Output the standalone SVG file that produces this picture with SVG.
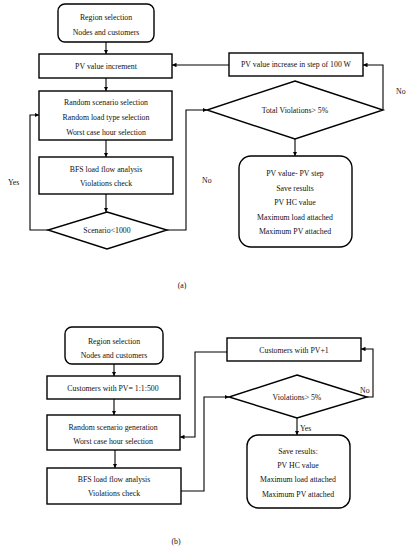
<svg xmlns="http://www.w3.org/2000/svg" width="411" height="550" viewBox="0 0 411 550">
<style>
.b{fill:#fff;stroke:#000;stroke-width:1.4}
.c{fill:none;stroke:#000;stroke-width:1.1}
text{font-family:"Liberation Serif","Times New Roman",serif;font-size:7.8px;fill:#111;text-anchor:middle}
.l{text-anchor:start}
</style>
<defs>
<marker id="a" viewBox="0 0 10 10" refX="10" refY="5" markerWidth="4.5" markerHeight="4.5" orient="auto" markerUnits="userSpaceOnUse">
<path d="M0,0L10,5L0,10z" fill="#000"/>
</marker>
</defs>
<rect width="411" height="550" fill="#fff"/>
<g id="connectors">
<path class="c" d="M106,42V54" marker-end="url(#a)"/>
<path class="c" d="M106,78V91" marker-end="url(#a)"/>
<path class="c" d="M106,140V157" marker-end="url(#a)"/>
<path class="c" d="M106,194V212" marker-end="url(#a)"/>
<path class="c" d="M48,230H30V115H39" marker-end="url(#a)"/>
<path class="c" d="M167,230H186V110H207" marker-end="url(#a)"/>
<path class="c" d="M383,110V65H363" marker-end="url(#a)"/>
<path class="c" d="M229,65H172" marker-end="url(#a)"/>
<path class="c" d="M295,139V156" marker-end="url(#a)"/>
<path class="c" d="M114,364V376" marker-end="url(#a)"/>
<path class="c" d="M114,399V415" marker-end="url(#a)"/>
<path class="c" d="M115,450V468" marker-end="url(#a)"/>
<path class="c" d="M181,491H204V397H229" marker-end="url(#a)"/>
<path class="c" d="M227,352H195V437H180" marker-end="url(#a)"/>
<path class="c" d="M367,397H373V349H361" marker-end="url(#a)"/>
<path class="c" d="M297,418V435" marker-end="url(#a)"/>
</g>
<g id="a_region"><rect class="b" x="58" y="4" width="96" height="38" rx="7"/><text x="106" y="19.5">Region selection</text><text x="106" y="35">Nodes and customers</text></g>
<g id="a_pvinc"><rect class="b" x="39" y="54" width="133" height="24"/><text x="106" y="68.5">PV value increment</text></g>
<g id="a_random"><rect class="b" x="39" y="91" width="133" height="49"/><text x="106" y="105">Random scenario selection</text><text x="106" y="120">Random load type selection</text><text x="106" y="134.5">Worst case hour selection</text></g>
<g id="a_bfs"><rect class="b" x="39" y="157" width="134" height="37"/><text x="106" y="171.5">BFS load flow analysis</text><text x="106" y="185.5">Violations check</text></g>
<g id="a_scen"><path class="b" d="M107,212L167,230L107,249L48,230Z"/><text x="107" y="232.5">Scenario&lt;1000</text></g>
<g id="a_step"><rect class="b" x="229" y="53" width="134" height="23"/><text x="296" y="66.5">PV value increase in step  of 100 W</text></g>
<g id="a_total"><path class="b" d="M295,81L383,110L295,139L207,110Z"/><text x="295" y="112.5">Total Violations&gt; 5%</text></g>
<g id="a_save"><rect class="b" x="239" y="156" width="113" height="91" rx="12"/><text x="295" y="175.5">PV value- PV step</text><text x="295" y="190.5">Save results</text><text x="295" y="205">PV HC value</text><text x="295" y="219.5">Maximum load attached</text><text x="295" y="234">Maximum PV attached</text></g>
<text class="l" x="8" y="185">Yes</text>
<text class="l" x="202" y="183">No</text>
<text class="l" x="396" y="94">No</text>
<text x="182" y="288">(a)</text>
<g id="b_region"><rect class="b" x="65" y="327" width="98" height="37" rx="7"/><text x="114" y="343.5">Region selection</text><text x="114" y="357.5">Nodes and customers</text></g>
<g id="b_cust"><rect class="b" x="47" y="376" width="133" height="23"/><text x="113" y="390.5">Customers  with PV= 1:1:500</text></g>
<g id="b_random"><rect class="b" x="47" y="415" width="133" height="35"/><text x="113" y="429.5">Random scenario generation</text><text x="113" y="444">Worst case hour selection</text></g>
<g id="b_bfs"><rect class="b" x="47" y="468" width="134" height="36"/><text x="114" y="481.5">BFS load flow analysis</text><text x="114" y="496">Violations check</text></g>
<g id="b_plus"><rect class="b" x="227" y="338" width="134" height="23"/><text x="294" y="352.5">Customers  with PV+1</text></g>
<g id="b_viol"><path class="b" d="M297,375L367,397L297,418L229,397Z"/><text x="297" y="399.5">Violations&gt; 5%</text></g>
<g id="b_save"><rect class="b" x="247" y="435" width="103" height="73" rx="11"/><text x="298" y="453.5">Save results:</text><text x="298" y="467.5">PV HC value</text><text x="298" y="482">Maximum load attached</text><text x="298" y="496.5">Maximum PV attached</text></g>
<text class="l" x="360" y="393">No</text>
<text class="l" x="300" y="431">Yes</text>
<text x="176" y="544">(b)</text>
</svg>
